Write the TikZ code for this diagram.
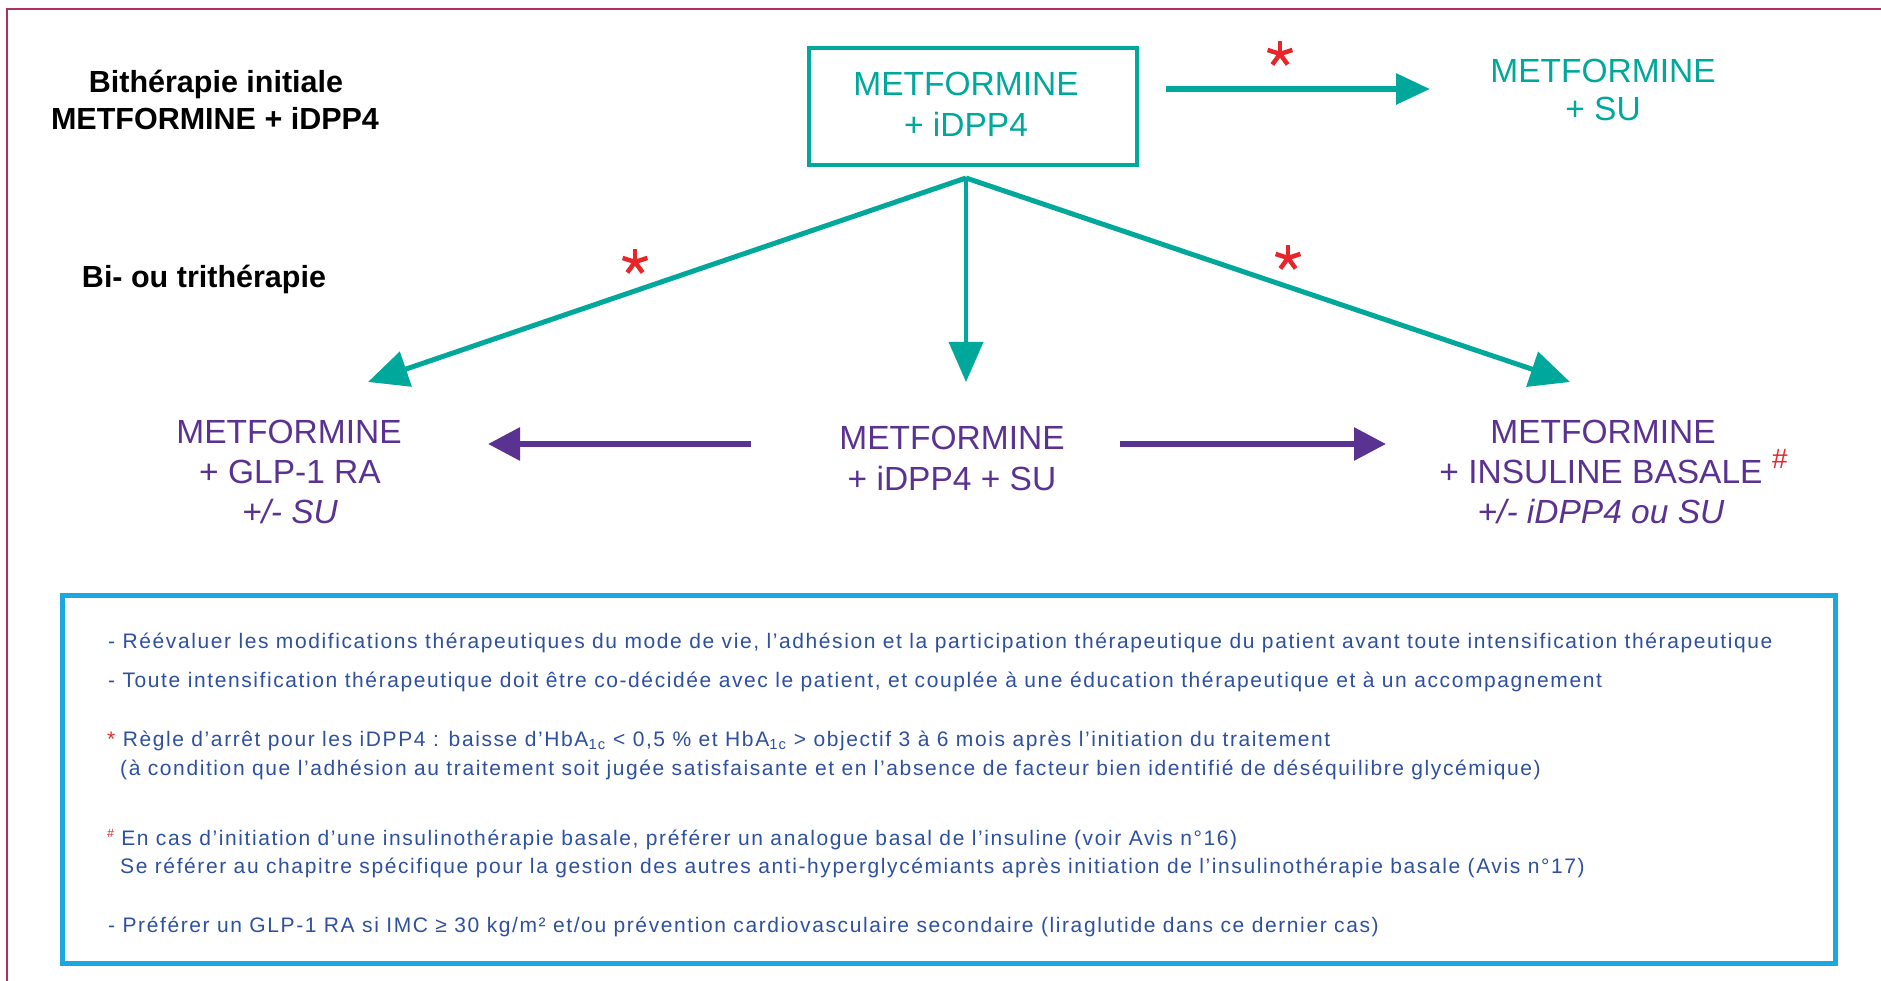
\documentclass[tikz,border=0pt]{standalone}
\usepackage{fontspec}
\setmainfont{Liberation Sans}
\newfontfamily\notefont[LetterSpace=7.6]{Liberation Sans}
\usetikzlibrary{arrows.meta}
\definecolor{tealc}{RGB}{0,168,155}
\definecolor{purp}{RGB}{90,50,145}
\definecolor{redst}{RGB}{232,38,42}
\definecolor{cyanb}{RGB}{27,168,224}
\definecolor{framec}{RGB}{176,48,90}
\definecolor{notec}{RGB}{45,80,160}
\newcommand\redstar[1]{\foreach \a in {-90,-18,54,126,198} \draw[redst, line width=4.5pt] (#1) -- ++(\a:13);}
\begin{document}
\begin{tikzpicture}[x=1pt,y=-1pt,
  big/.style={font=\fontsize{33.5}{41}\selectfont, anchor=base, inner sep=0pt},
  bigit/.style={font=\fontsize{33.5}{41}\selectfont\itshape, anchor=base, inner sep=0pt},
  head/.style={font=\fontsize{30.5}{37}\selectfont\bfseries, anchor=base, inner sep=0pt},
  note/.style={font=\notefont\fontsize{21}{25}\selectfont, text=notec, anchor=base west, inner sep=0pt},
  tealarrow/.style={draw=tealc, line width=6pt, -{Triangle[length=34pt,width=30pt]}},
  diagarrow/.style={draw=tealc, line width=5pt, -{Triangle[length=40pt,width=36pt]}},
  purparrow/.style={draw=purp, line width=6pt, -{Triangle[length=32pt,width=32pt]}}]
\useasboundingbox (0,0) rectangle (1881,981);
\fill[white] (0,0) rectangle (1881,981);
% outer frame (top and left edges)
\draw[framec, line width=2pt] (7,981) -- (7,9) -- (1881,9);

% headings
\node[head] (h1) at (216,93) {Bithérapie initiale};
\node[head] (h2) at (215,130) {METFORMINE + iDPP4};
\node[head] (h3) at (204,288) {Bi- ou trithérapie};

% main box
\node[draw=tealc, line width=4pt, minimum width=328pt, minimum height=117pt, inner sep=0pt] (box) at (973,106.5) {};
\node[big, text=tealc] (b1) at (966,96) {METFORMINE};
\node[big, text=tealc] (b2) at (966,137) {+ iDPP4};

% top right
\node[big, text=tealc] (su1) at (1603,83) {METFORMINE};
\node[big, text=tealc] (su2) at (1603,121) {+ SU};

% coordinates for arrows
\coordinate (topA) at (1166,89);
\coordinate (topB) at (1430,89);
\coordinate (apex) at (966,178);
\coordinate (tipL) at (368,382);
\coordinate (tipM) at (966,382);
\coordinate (tipR) at (1570,382);
\coordinate (pLa) at (751,444);
\coordinate (pLb) at (488,444);
\coordinate (pRa) at (1120,444);
\coordinate (pRb) at (1386,444);

\draw[tealarrow] (topA) -- (topB);
\draw[diagarrow] (apex) -- (tipL);
\draw[draw=tealc, line width=3.5pt, -{Triangle[length=40pt,width=34pt]}] (apex) -- (tipM);
\draw[diagarrow] (apex) -- (tipR);
\draw[purparrow] (pLa) -- (pLb);
\draw[purparrow] (pRa) -- (pRb);

\redstar{1280,54}
\redstar{635,262}
\redstar{1288,258}

% middle row
\node[big, text=purp] (l1) at (289,443) {METFORMINE};
\node[big, text=purp] (l2) at (290,483) {+ GLP-1 RA};
\node[bigit, text=purp] (l3) at (290,523) {+/- SU};

\node[big, text=purp] (c1) at (952,449) {METFORMINE};
\node[big, text=purp] (c2) at (952,490) {+ iDPP4 + SU};

\node[big, text=purp] (r1) at (1603,443) {METFORMINE};
\node[big, text=purp] (r2) at (1601,483) {+ INSULINE BASALE};
\node[font=\fontsize{28}{30}\selectfont, text=redst, anchor=base west, inner sep=0pt] (hash) at (1772,468) {\#};
\node[bigit, text=purp] (r3) at (1601,523) {+/- iDPP4 ou SU};

% notes box
\node[draw=cyanb, line width=5pt, minimum width=1773pt, minimum height=367.5pt, inner sep=0pt] (notes) at (949,779.25) {};
\node[note] (n1) at (108,648) {- Réévaluer les modifications thérapeutiques du mode de vie, l’adhésion et la participation thérapeutique du patient avant toute intensification thérapeutique};
\node[note] (n2) at (108,687) {- Toute intensification thérapeutique doit être co-décidée avec le patient, et couplée à une éducation thérapeutique et à un accompagnement};
\node[note] (n3) at (107,746) {\textcolor{redst}{*} Règle d’arrêt pour les iDPP4 : baisse d’HbA\textsubscript{1c} < 0,5 \% et HbA\textsubscript{1c} > objectif 3 à 6 mois après l’initiation du traitement};
\node[note] (n4) at (120,775) {(à condition que l’adhésion au traitement soit jugée satisfaisante et en l’absence de facteur bien identifié de déséquilibre glycémique)};
\node[note] (n5) at (107,845) {\textcolor{redst}{\raisebox{0.35em}{\fontsize{12}{12}\selectfont\itshape\#}} En cas d’initiation d’une insulinothérapie basale, préférer un analogue basal de l’insuline (voir Avis n°16)};
\node[note] (n6) at (120,873) {Se référer au chapitre spécifique pour la gestion des autres anti-hyperglycémiants après initiation de l’insulinothérapie basale (Avis n°17)};
\node[note] (n7) at (108,932) {- Préférer un GLP-1 RA si IMC ≥ 30 kg/m² et/ou prévention cardiovasculaire secondaire (liraglutide dans ce dernier cas)};
\end{tikzpicture}
\end{document}
